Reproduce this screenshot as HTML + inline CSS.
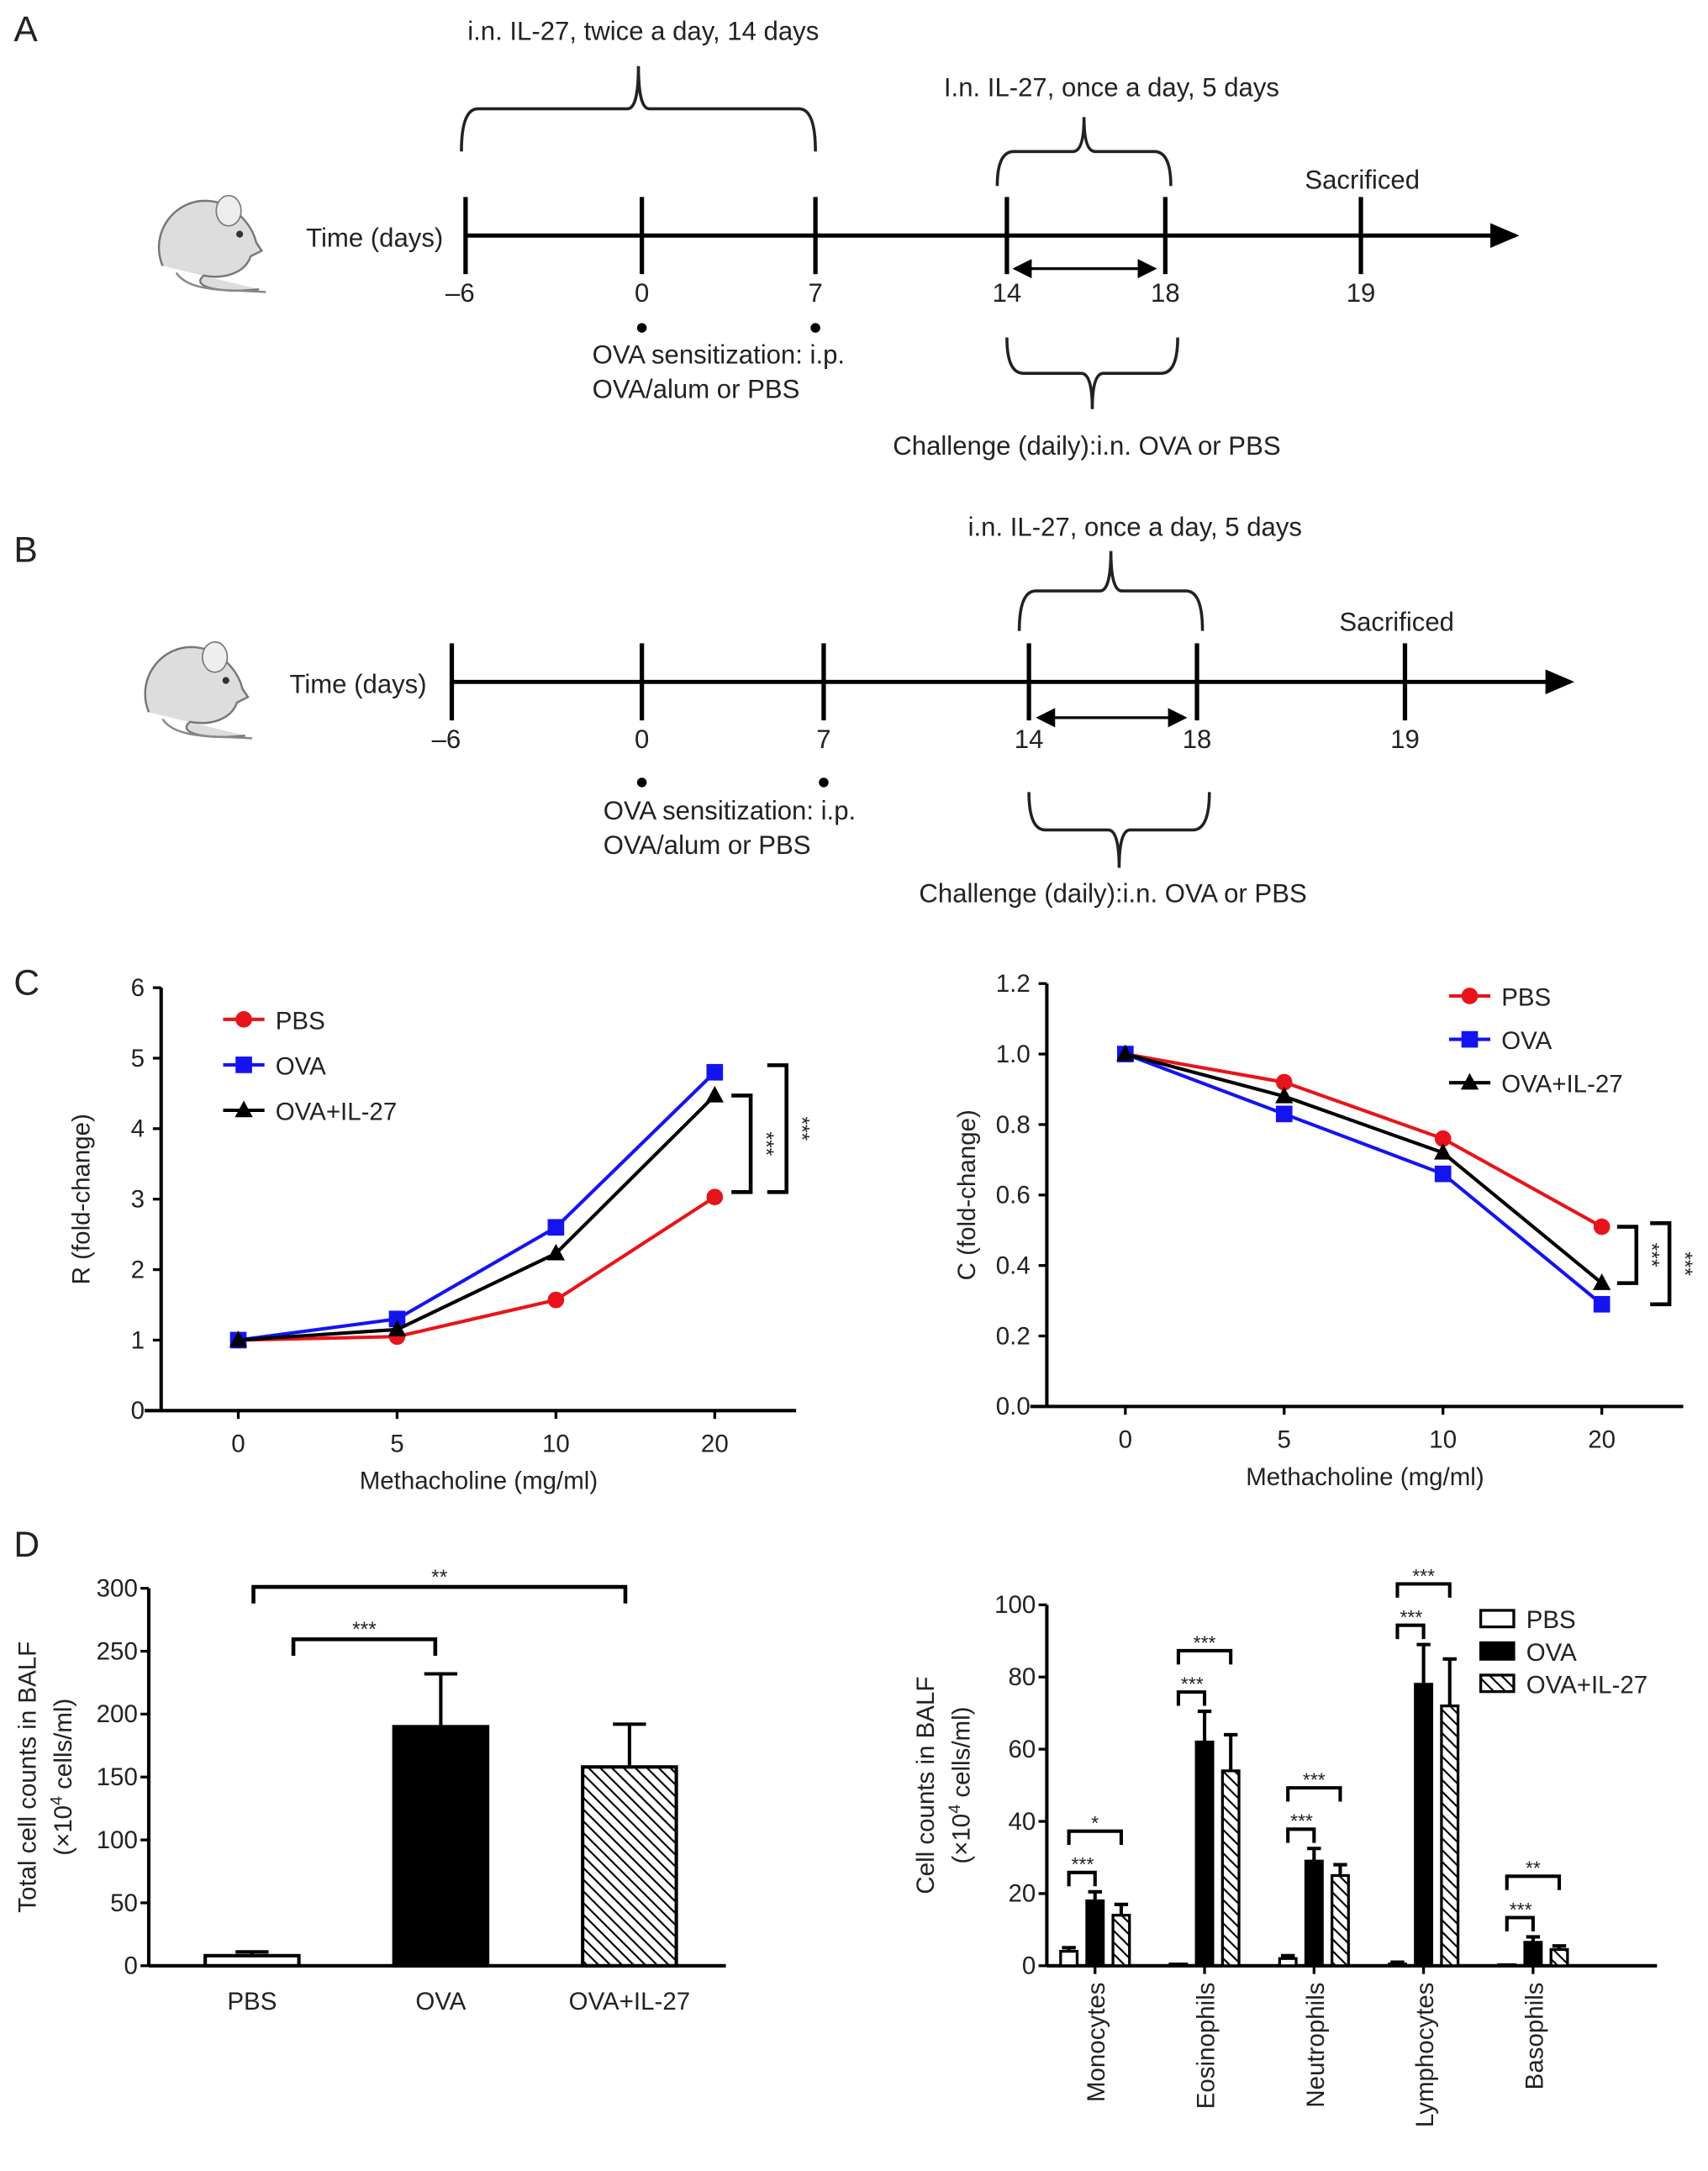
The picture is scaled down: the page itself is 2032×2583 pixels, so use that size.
<!DOCTYPE html>
<html><head><meta charset="utf-8"><style>
html,body{margin:0;padding:0;background:#fff}
svg{display:block;font-family:"Liberation Sans",Arial,sans-serif}
text{fill:#222}
</style></head><body>
<svg id="fig" xmlns="http://www.w3.org/2000/svg" width="2032" height="2583" viewBox="0 0 1240 1576" preserveAspectRatio="none">
<defs>
<pattern id="hatch" patternUnits="userSpaceOnUse" width="6" height="6" patternTransform="rotate(-45)">
<rect width="6" height="6" fill="#fff"/><line x1="0" y1="0" x2="0" y2="6" stroke="#000" stroke-width="2.6"/></pattern>
<marker id="arr" markerWidth="8" markerHeight="8" refX="6" refY="4" orient="auto" markerUnits="strokeWidth"><path d="M0,1 L7,4 L0,7 Z" fill="#000"/></marker>
<marker id="arrs" markerWidth="8" markerHeight="8" refX="6" refY="4" orient="auto-start-reverse"><path d="M0,0.5 L7,4 L0,7.5 Z" fill="#000"/></marker>
</defs>
<g font-size="26">
<text x="10" y="30">A</text>
<text x="10" y="408">B</text>
<text x="10" y="722">C</text>
<text x="10" y="1130">D</text>
</g>
<g id="timelines"></g>
<g id="charts"></g>
</svg>
<script>
// ===== Data =====
const doseCats = ["0","5","10","20"];
const rPBS = [1, 1.05, 1.57, 3.03];
const rOVA = [1, 1.3, 2.6, 4.8];
const rIL27 = [1, 1.15, 2.23, 4.47];
const rTicks = [0,1,2,3,4,5,6];
const cPBS = [1, 0.92, 0.76, 0.51];
const cOVA = [1, 0.83, 0.66, 0.29];
const cIL27 = [1, 0.88, 0.72, 0.35];
const cTicks = [0,0.2,0.4,0.6,0.8,1.0,1.2];
const totalCats = ["PBS","OVA","OVA+IL-27"];
const totalVals = [8, 190, 158];
const totalErr = [3, 42, 34];
const totalTicks = [0,50,100,150,200,250,300];
const cellCats = ["Monocytes","Eosinophils","Neutrophils","Lymphocytes","Basophils"];
const cellPBS = [4, 0.5, 2, 0.5, 0.3];
const cellOVA = [18, 62, 29, 78, 6.5];
const cellIL27 = [14, 54, 25, 72, 4.5];
const errPBS = [1, 0, 0.8, 0.5, 0];
const errOVA = [2.5, 8.5, 3.5, 11, 1.5];
const errIL27 = [3, 10, 3, 13, 1];
const cellTicks = [0,20,40,60,80,100];

const NS="http://www.w3.org/2000/svg";
function mk(parent,tag,attrs,txt){const e=document.createElementNS(NS,tag);for(const k in attrs)e.setAttribute(k,attrs[k]);if(txt!==undefined)e.textContent=txt;parent.appendChild(e);return e;}
const TL=document.getElementById('timelines');
const CH=document.getElementById('charts');

// ===== Timelines =====
function mouse(g,x,y){
  const m=mk(g,'g',{transform:`translate(${x},${y})`});
  
  
  mk(m,'path',{d:'M10,55 C0,30 20,5 45,8 C62,10 75,25 78,38 L82,44 L74,48 C70,60 55,65 40,62 C30,70 50,75 80,72',fill:'#ddd',stroke:'#777','stroke-width':1.5});
  mk(m,'ellipse',{cx:58,cy:15,rx:9,ry:11,fill:'#eee',stroke:'#777'});
  mk(m,'circle',{cx:66,cy:32,r:2.5,fill:'#333'});
  mk(m,'path',{d:'M20,60 C30,75 60,72 85,74',fill:'none',stroke:'#888','stroke-width':1.5});
}
function brace(g,x1,x2,y1,y2,up){
  const xm=(x1+x2)/2, ym=(y1+y2)/2;
  let d;
  if(up) d=`M${x1},${y2} Q${x1},${ym} ${x1+12},${ym} L${xm-8},${ym} Q${xm},${ym} ${xm},${y1} Q${xm},${ym} ${xm+8},${ym} L${x2-12},${ym} Q${x2},${ym} ${x2},${y2}`;
  else d=`M${x1},${y1} Q${x1},${ym} ${x1+12},${ym} L${xm-8},${ym} Q${xm},${ym} ${xm},${y2} Q${xm},${ym} ${xm+8},${ym} L${x2-12},${ym} Q${x2},${ym} ${x2},${y1}`;
  const p=mk(g,'path',{d,fill:'none',stroke:'#222','stroke-width':2.2});
  
  
}
function timeline(o){
  const g=mk(TL,'g',{'font-size':19});
  
  
  mouse(g,o.mx,o.my);
  mk(g,'text',{x:o.timeX,y:o.y+8,'text-anchor':'middle'},'Time (days)');
  const ax=mk(g,'line',{x1:o.ticks[0],y1:o.y,x2:o.end,y2:o.y,stroke:'#000','stroke-width':3,'marker-end':'url(#arr)'});
  
  
  o.ticks.forEach((t,i)=>{
    mk(g,'line',{x1:t,y1:o.y-28,x2:t,y2:o.y+28,stroke:'#000','stroke-width':3.2});
    mk(g,'text',{x:t-(i==0?4:0),y:o.y+48,'text-anchor':'middle'},o.labels[i]);
  });
  if(o.b1) { brace(g,o.b1[0],o.b1[1],o.b1[2],o.b1[3],true); mk(g,'text',{x:o.b1t[0],y:o.b1t[1],'text-anchor':'middle'},o.b1t[2]); }
  brace(g,o.b2[0],o.b2[1],o.b2[2],o.b2[3],true);
  mk(g,'text',{x:o.b2t[0],y:o.b2t[1],'text-anchor':'middle'},o.b2t[2]);
  mk(g,'text',{x:o.sac[0],y:o.sac[1],'text-anchor':'middle'},'Sacrificed');
  mk(g,'line',{x1:o.da[0],y1:o.da[2],x2:o.da[1],y2:o.da[2],stroke:'#000','stroke-width':2,'marker-start':'url(#arrs)','marker-end':'url(#arrs)'});
  mk(g,'circle',{cx:o.ticks[1],cy:o.dotY,r:3.5,fill:'#000'});
  mk(g,'circle',{cx:o.ticks[2],cy:o.dotY,r:3.5,fill:'#000'});
  mk(g,'text',{x:o.sens[0],y:o.sens[1]},'OVA sensitization: i.p.');
  mk(g,'text',{x:o.sens[0],y:o.sens[1]+25},'OVA/alum or PBS');
  brace(g,o.b3[0],o.b3[1],o.b3[2],o.b3[3],false);
  mk(g,'text',{x:o.ch[0],y:o.ch[1],'text-anchor':'middle'},'Challenge (daily):i.n. OVA or PBS');
}
timeline({name:'timeline-a',mx:108,my:138,timeX:272,y:171,end:1100,ticks:[338,466,592,731,846,988],labels:['–6','0','7','14','18','19'],
  b1:[335,592,48,110],b1t:[467,29,'i.n. IL-27, twice a day, 14 days'],b2:[724,850,85,135],b2t:[807,70,'I.n. IL-27, once a day, 5 days'],
  sac:[989,137],da:[737,838,195],dotY:238,sens:[430,264],b3:[731,855,245,297],ch:[789,330]});
timeline({name:'timeline-b',mx:98,my:462,timeX:260,y:495,end:1140,ticks:[328,466,598,747,869,1020],labels:['–6','0','7','14','18','19'],
  b2:[740,873,400,458],b2t:[824,389,'i.n. IL-27, once a day, 5 days'],
  sac:[1014,458],da:[754,860,521],dotY:568,sens:[438,595],b3:[747,878,575,630],ch:[808,655]});

// ===== Line charts =====
function lineChart(o){
  const g=mk(CH,'g',{'font-size':18});
  
  
  const ymax=o.ticks[o.ticks.length-1];
  const Y=v=>o.y0-(v/ymax)*(o.y0-o.y1);
  const X=i=>o.xs0+i*o.dx;
  mk(g,'line',{x1:o.ax,y1:o.y1,x2:o.ax,y2:o.y0,stroke:'#000','stroke-width':2.5});
  mk(g,'line',{x1:o.ax-12,y1:o.y0,x2:o.xend,y2:o.y0,stroke:'#000','stroke-width':2.5});
  o.ticks.forEach(t=>{mk(g,'line',{x1:o.ax-6,y1:Y(t),x2:o.ax,y2:Y(t),stroke:'#000','stroke-width':2});
    const tl=mk(g,'text',{x:o.ax-12,y:Y(t)+6,'text-anchor':'end'},o.fmt(t));
    
    });
  doseCats.forEach((c,i)=>{mk(g,'line',{x1:X(i),y1:o.y0,x2:X(i),y2:o.y0+6,stroke:'#000','stroke-width':2});
    const tl=mk(g,'text',{x:X(i),y:o.y0+30,'text-anchor':'middle'},c);
    
    });
  const xt=mk(g,'text',{x:(o.ax+o.xend)/2,y:o.y0+57,'text-anchor':'middle'},'Methacholine (mg/ml)');
  
  
  const yt=mk(g,'text',{x:0,y:0,'text-anchor':'middle',transform:`translate(${o.ax-52},${(o.y0+o.y1)/2}) rotate(-90)`},o.ylabel);
  
  
  const series=[[o.pbs,'#e8141b','circle','PBS'],[o.ova,'#1414f0','square','OVA'],[o.il,'#000','tri','OVA+IL-27']];
  o.order.forEach(si=>{const [vals,col,shape,nm]=series[si];
    const sg=mk(g,'g',{});
    
    
    mk(sg,'polyline',{points:vals.map((v,i)=>X(i)+','+Y(v)).join(' '),fill:'none',stroke:col,'stroke-width':2.5});
    vals.forEach((v,i)=>marker(sg,shape,X(i),Y(v),col));
  });
  series.forEach(([vals,col,shape,nm],k)=>{
    const ly=o.leg[1]+k*o.leg[2];
    const le=mk(g,'g',{});
    
    
    mk(le,'line',{x1:o.leg[0],y1:ly,x2:o.leg[0]+30,y2:ly,stroke:col,'stroke-width':2.5});
    marker(le,shape,o.leg[0]+15,ly,col);
    mk(le,'text',{x:o.leg[0]+38,y:ly+7},nm);
  });
  o.brk.forEach(b=>{const yA=Y(b[1]),yB=Y(b[2]);
    const bp=mk(g,'path',{d:`M${b[0]-14},${yA} H${b[0]} V${yB} H${b[0]-14}`,fill:'none',stroke:'#000','stroke-width':2.8});
    
    
    mk(g,'text',{x:0,y:0,'font-size':15,'text-anchor':'middle',transform:`translate(${b[0]+6},${(yA+yB)/2}) rotate(90)`},'***');
  });
}
function marker(g,shape,x,y,col){
  let m;
  if(shape=='circle') m=mk(g,'circle',{cx:x,cy:y,r:6,fill:col});
  else if(shape=='square') m=mk(g,'rect',{x:x-6,y:y-6,width:12,height:12,fill:col});
  else m=mk(g,'path',{d:`M${x},${y-7} L${x+6.5},${y+5} L${x-6.5},${y+5} Z`,fill:col});
  
  
}
lineChart({name:'chart-resistance',ax:117,y0:1024,y1:717,xend:578,xs0:173,dx:115.3,ticks:rTicks,fmt:t=>String(t),ylabel:'R (fold-change)',
  pbs:rPBS,ova:rOVA,il:rIL27,order:[0,1,2],leg:[162,740,33],brk:[[545,rIL27[3],3.1],[571,4.9,3.1]]});
lineChart({name:'chart-compliance',ax:760,y0:1021,y1:714,xend:1222,xs0:817,dx:115.3,ticks:cTicks,fmt:t=>t.toFixed(1),ylabel:'C (fold-change)',
  pbs:cPBS,ova:cOVA,il:cIL27,order:[0,1,2],leg:[1052,723,31.5],brk:[[1188,cPBS[3],cIL27[3]],[1212,0.52,cOVA[3]]]});

// ===== Total cells bar chart =====
(function(){
  const g=mk(CH,'g',{'font-size':18});
  
  
  const ax=108,y0=1427,y1=1153,ymax=300;
  const Y=v=>y0-(v/ymax)*(y0-y1);
  const X=i=>183+i*137;
  mk(g,'line',{x1:ax,y1:y1,x2:ax,y2:y0,stroke:'#000','stroke-width':2.5});
  mk(g,'line',{x1:ax,y1:y0,x2:527,y2:y0,stroke:'#000','stroke-width':2.5});
  totalTicks.forEach(t=>{mk(g,'line',{x1:ax-6,y1:Y(t),x2:ax,y2:Y(t),stroke:'#000','stroke-width':2});
    mk(g,'text',{x:ax-8,y:Y(t)+6,'text-anchor':'end'},String(t));});
  totalCats.forEach((c,i)=>{
    const fill=i==0?'#fff':(i==1?'#000':'url(#hatch)');
    mk(g,'line',{x1:X(i),y1:Y(totalVals[i]),x2:X(i),y2:Y(totalVals[i]+totalErr[i]),stroke:'#000','stroke-width':2.5});
    mk(g,'line',{x1:X(i)-12,y1:Y(totalVals[i]+totalErr[i]),x2:X(i)+12,y2:Y(totalVals[i]+totalErr[i]),stroke:'#000','stroke-width':2.5});
    const b=mk(g,'rect',{x:X(i)-34,y:Y(totalVals[i]),width:68,height:y0-Y(totalVals[i]),fill:fill,stroke:'#000','stroke-width':2.5});
    
    
    mk(g,'text',{x:X(i),y:y0+32,'text-anchor':'middle'},c);
  });
  const yt=mk(g,'text',{x:0,y:0,'text-anchor':'middle',transform:'translate(26,1290) rotate(-90)'},'Total cell counts in BALF');
  
  
  const yt2=mk(g,'text',{x:0,y:0,'text-anchor':'middle',transform:'translate(52,1290) rotate(-90)'});
  yt2.innerHTML='(×10<tspan dy="-7" font-size="12">4</tspan><tspan dy="7"> cells/ml)</tspan>';
  [[213,316,1190,'***'],[184,454,1152,'**']].forEach(b=>{
    mk(g,'path',{d:`M${b[0]},${b[2]+12} V${b[2]} H${b[1]} V${b[2]+12}`,fill:'none',stroke:'#000','stroke-width':2.8});
    mk(g,'text',{x:(b[0]+b[1])/2,y:b[2]-2,'text-anchor':'middle','font-size':15},b[3]);
  });
})();

// ===== Cell types bar chart =====
(function(){
  const g=mk(CH,'g',{'font-size':18});
  
  
  const ax=760,y0=1427,y1=1165,ymax=100;
  const Y=v=>y0-(v/ymax)*(y0-y1);
  const X=i=>795+i*79.5;
  mk(g,'line',{x1:ax,y1:y1,x2:ax,y2:y0,stroke:'#000','stroke-width':2.5});
  mk(g,'line',{x1:ax,y1:y0,x2:1203,y2:y0,stroke:'#000','stroke-width':2.5});
  cellTicks.forEach(t=>{mk(g,'line',{x1:ax-6,y1:Y(t),x2:ax,y2:Y(t),stroke:'#000','stroke-width':2});
    mk(g,'text',{x:ax-8,y:Y(t)+6,'text-anchor':'end'},String(t));});
  const sets=[[cellPBS,errPBS,'#fff',-19,'pbs'],[cellOVA,errOVA,'#000',0,'ova'],[cellIL27,errIL27,'url(#hatch)',19,'ova-il27']];
  cellCats.forEach((c,i)=>{
    mk(g,'line',{x1:X(i),y1:y0,x2:X(i),y2:y0+6,stroke:'#000','stroke-width':2});
    sets.forEach(s=>{const v=s[0][i],e=s[1][i],cx=X(i)+s[3];
      if(e>0){mk(g,'line',{x1:cx,y1:Y(v),x2:cx,y2:Y(v+e),stroke:'#000','stroke-width':2.5});
        mk(g,'line',{x1:cx-5,y1:Y(v+e),x2:cx+5,y2:Y(v+e),stroke:'#000','stroke-width':2.5});}
      const b=mk(g,'rect',{x:cx-6,y:Y(v),width:12,height:Math.max(y0-Y(v),0.5),fill:s[2],stroke:'#000','stroke-width':2});
      
      
    });
    const tl=mk(g,'text',{x:0,y:0,'text-anchor':'end',transform:`translate(${X(i)+7},${y0+12}) rotate(-90)`},c);
    
    
    const s1=['***','***','***','***','***'][i], s2=['*','***','***','***','**'][i];
    const topO=Math.max(cellOVA[i]+errOVA[i],cellIL27[i]+errIL27[i]);
    const yb1=Y(cellOVA[i]+errOVA[i])-14, yb2=Math.min(yb1-30,Y(topO)-14);
    mk(g,'path',{d:`M${X(i)-19},${yb1+10} V${yb1} H${X(i)} V${yb1+10}`,fill:'none',stroke:'#000','stroke-width':2.5});
    mk(g,'text',{x:X(i)-9,y:yb1-1,'text-anchor':'middle','font-size':14},s1);
    mk(g,'path',{d:`M${X(i)-19},${yb2+10} V${yb2} H${X(i)+19} V${yb2+10}`,fill:'none',stroke:'#000','stroke-width':2.5});
    mk(g,'text',{x:X(i),y:yb2-1,'text-anchor':'middle','font-size':14},s2);
  });
  const yt=mk(g,'text',{x:0,y:0,'text-anchor':'middle',transform:'translate(678,1296) rotate(-90)'},'Cell counts in BALF');
  
  
  const yt2=mk(g,'text',{x:0,y:0,'text-anchor':'middle',transform:'translate(704,1296) rotate(-90)'});
  yt2.innerHTML='(×10<tspan dy="-7" font-size="12">4</tspan><tspan dy="7"> cells/ml)</tspan>';
  [['PBS','#fff'],['OVA','#000'],['OVA+IL-27','url(#hatch)']].forEach((l,k)=>{
    const ly=1175+k*23.5;
    const le=mk(g,'g',{});
    
    
    mk(le,'rect',{x:1075,y:ly-6,width:24,height:12,fill:l[1],stroke:'#000','stroke-width':2});
    mk(le,'text',{x:1108,y:ly+7},l[0]);
  });
})();
</script>
</body></html>
